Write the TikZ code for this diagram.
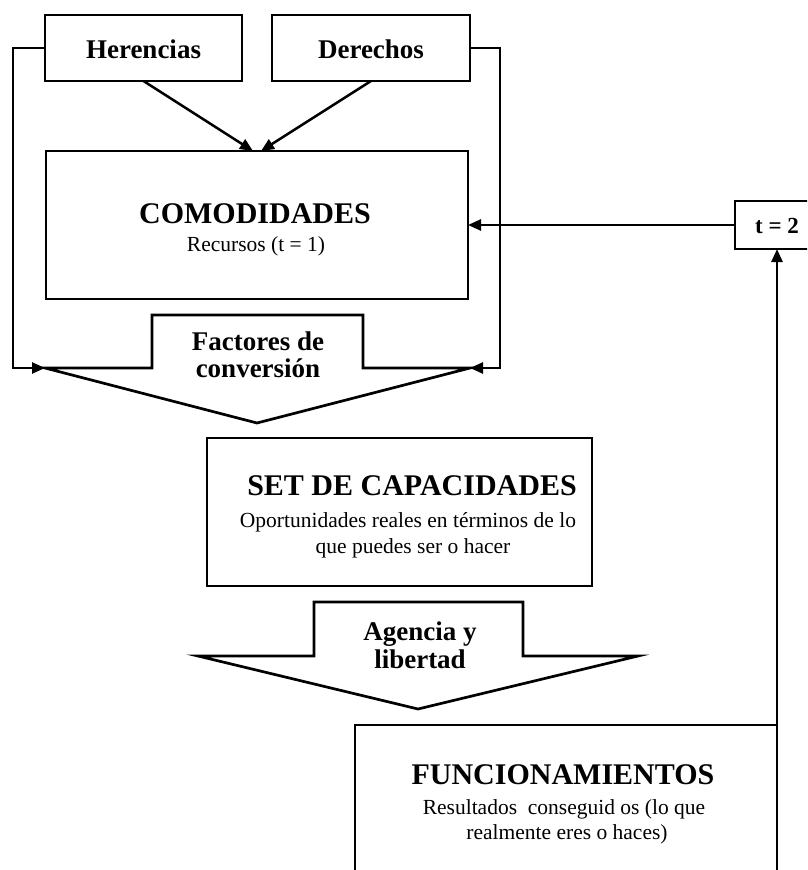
\documentclass[tikz,border=0pt]{standalone}
\usepackage{fontspec}
\setmainfont{Liberation Serif}
\usetikzlibrary{arrows.meta}
\begin{document}
\begin{tikzpicture}[x=1pt,y=-1pt,
  line join=miter,
  box/.style={draw, line width=2.7pt, inner sep=0pt, outer sep=0pt, fill=white},
  arr/.style={-{Triangle[length=13pt,width=11pt]}, line width=2.5pt},
  blockarrow/.style={draw, line width=2.7pt, fill=white},
  ttl/.style={font=\fontsize{30}{30}\selectfont\bfseries, anchor=base, inner sep=0pt},
  sub/.style={font=\fontsize{21.5}{26}\selectfont, anchor=base, inner sep=0pt},
  lbl/.style={font=\fontsize{27}{27}\selectfont\bfseries, anchor=base, inner sep=0pt},
  tlbl/.style={font=\fontsize{23}{23}\selectfont\bfseries, anchor=base, inner sep=0pt}]
\clip (0,0) rectangle (807,870);
\fill[white] (0,0) rectangle (807,870);

% top boxes
\node[box, minimum width=197pt, minimum height=66pt] (her) at (143.5,48) {};
\node[lbl] (hert) at (143.5,58) {Herencias};
\node[box, minimum width=198pt, minimum height=66pt] (der) at (371,48) {};
\node[lbl] (dert) at (371,58) {Derechos};

% comodidades
\node[box, minimum width=422pt, minimum height=148pt] (com) at (257,225) {};
\node[ttl] (comt) at (255,223) {COMODIDADES};
\node[sub] (coms) at (256,251) {Recursos (t = 1)};

\draw[arr] (her.south) -- ([xshift=-4pt]com.north);
\draw[arr] (der.south) -- ([xshift=4pt]com.north);

% factores de conversion block arrow
\draw[blockarrow] (152,315) -- (363,315) -- (363,368) -- (470,368) -- (257,423)
  -- (45,368) -- (152,368) -- cycle;
\coordinate (fcL) at (45,368);
\coordinate (fcR) at (470,368);
\node[lbl] (fac1) at (258,350) {Factores de};
\node[lbl] (fac2) at (258,377) {conversión};

\draw[arr] (her.west) -- ++(-32,0) |- (fcL);
\draw[arr] (der.east) -- ++(30,0) |- (fcR);

% t = 2
\node[box, minimum width=84pt, minimum height=48pt] (t2) at (777,225) {};
\node[tlbl] (t2t) at (777,233) {t = 2};
\draw[arr] (t2.west) -- (com.east);

% set de capacidades
\node[box, minimum width=385pt, minimum height=148pt] (set) at (399.5,512) {};
\node[ttl] (sett) at (412,495) {SET DE CAPACIDADES};
\node[sub] (sets1) at (408,527) {Oportunidades reales en términos de lo};
\node[sub] (sets2) at (413,553) {que puedes ser o hacer};

% agencia y libertad block arrow
\draw[blockarrow] (314,602) -- (523,602) -- (523,656) -- (638,656) -- (418,709)
  -- (198,656) -- (314,656) -- cycle;
\node[lbl] (ag1) at (420,640) {Agencia y};
\node[lbl] (ag2) at (420,668) {libertad};

% funcionamientos
\node[box, minimum width=422pt, minimum height=180pt] (func) at (566,815) {};
\node[ttl] (funct) at (563,784) {FUNCIONAMIENTOS};
\node[sub] (funcs1) at (564,814) {Resultados\ \ conseguid os (lo que};
\node[sub] (funcs2) at (567,839) {realmente eres o haces)};

\draw[arr] (func.south east) -- (t2.south);
\end{tikzpicture}
\end{document}
